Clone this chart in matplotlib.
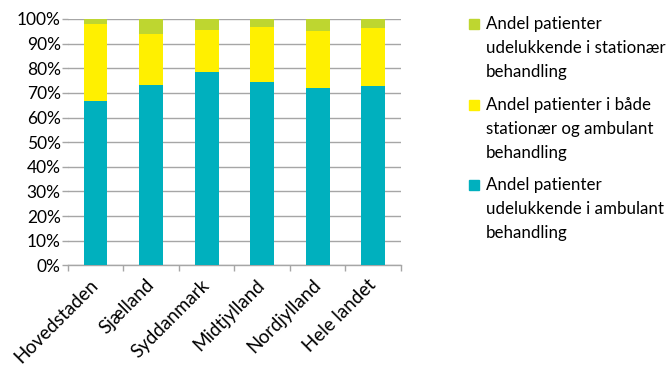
import matplotlib
matplotlib.use("Agg")
import matplotlib.pyplot as plt
import matplotlib.transforms as mtransforms
from matplotlib.patches import Rectangle
import numpy as np

plt.rcParams['font.family'] = ['Lato', 'DejaVu Sans']

regions = ["Hovedstaden", "Sjælland", "Syddanmark", "Midtjylland", "Nordjylland", "Hele landet"]
ambulant = [66.7, 73.2, 78.5, 74.4, 72.0, 72.8]
begge = [31.3, 20.8, 17.0, 22.4, 23.1, 23.5]
stationaer = [2.0, 6.0, 4.5, 3.2, 4.9, 3.7]
yticks = [0, 10, 20, 30, 40, 50, 60, 70, 80, 90, 100]

series = [
    ("Andel patienter\nudelukkende i stationær\nbehandling", stationaer, "#BED630"),
    ("Andel patienter i både\nstationær og ambulant\nbehandling", begge, "#FFF000"),
    ("Andel patienter\nudelukkende i ambulant\nbehandling", ambulant, "#00B0BE"),
]

grid_c = "#A6A6A6"
fig = plt.figure(figsize=(6.69, 3.65), dpi=100)
ax = fig.add_axes([0.1012, 0.2732, 0.4982, 0.6748])

x = np.arange(len(regions))
w = 0.43
ax.bar(x, ambulant, w, color="#00B0BE", zorder=3)
ax.bar(x, begge, w, bottom=ambulant, color="#FFF000", zorder=3)
ax.bar(x, stationaer, w, bottom=np.array(ambulant) + np.array(begge), color="#BED630", zorder=3)

ax.set_xlim(-0.5, len(regions) - 0.5)
ax.set_ylim(0, 100)
ax.set_yticks(yticks)
ax.set_yticklabels([f"{v}%" for v in yticks], fontsize=12.5)
ax.yaxis.grid(True, color=grid_c, linewidth=1.0, zorder=0)
ax.tick_params(axis='y', length=4, color=grid_c, width=1.0, pad=1)

ax.set_xticks(x)
ax.set_xticklabels(regions, rotation=45, ha='right', va='top', rotation_mode='anchor', fontsize=13.5)
ax.tick_params(axis='x', which='major', length=0, pad=8)
shift = mtransforms.ScaledTranslation(-6 / 100, 0, fig.dpi_scale_trans)
for lbl in ax.get_xticklabels():
    lbl.set_transform(lbl.get_transform() + shift)
ax.set_xticks(np.arange(-0.5, len(regions)), minor=True)
ax.tick_params(axis='x', which='minor', length=4, color=grid_c, width=1.0)

for s in ['top', 'right', 'left']:
    ax.spines[s].set_visible(False)
ax.spines['bottom'].set_color(grid_c)
ax.spines['bottom'].set_linewidth(1.0)

# legend drawn in figure pixels
W, H = 669, 365
tops = [19, 100, 180]
for (label, _, color), top in zip(series, tops):
    fig.patches.append(Rectangle((469 / W, 1 - (top + 10) / H), 10 / W, 10 / H,
                                 transform=fig.transFigure, color=color))
    fig.text(486 / W, 1 - (top - 3) / H, label, fontsize=12.2, va='top', ha='left',
             linespacing=1.6)

fig.savefig("out.png", dpi=100)
